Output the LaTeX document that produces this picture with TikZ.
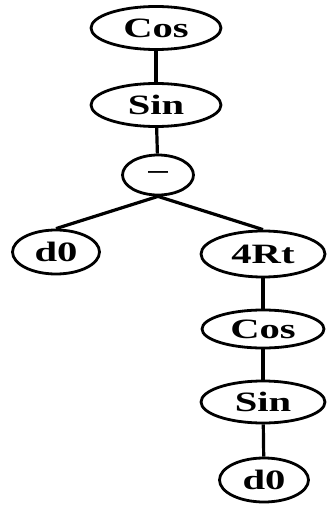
\documentclass[tikz,border=0pt]{standalone}
\usepackage{fontspec}
\setmainfont{Liberation Serif}
\usetikzlibrary{shapes.geometric}
\newcommand{\lbl}[1]{\scalebox{1.45}[1]{\fontsize{28}{28}\selectfont\bfseries #1}}
\begin{document}
\begin{tikzpicture}[x=1pt,y=-1pt,
  enode/.style={ellipse,draw,line width=2.8pt,inner sep=0pt,font=\bfseries},
  edge/.style={line width=3.2pt}]
\useasboundingbox (0,0) rectangle (327,505);
\node[enode,minimum width=130,minimum height=43] (cos1) at (156,28) {\lbl{Cos}};
\node[enode,minimum width=130,minimum height=43] (sin1) at (156,105) {\lbl{Sin}};
\node[enode,minimum width=71,minimum height=40] (minus) at (158,175) {\scalebox{1.5}[1]{\fontsize{26}{26}\selectfont\textendash}};
\node[enode,minimum width=87,minimum height=44] (d0a) at (56,252) {\lbl{d0}};
\node[enode,minimum width=124,minimum height=46] (rt) at (263,254) {\lbl{4Rt}};
\node[enode,minimum width=122,minimum height=38] (cos2) at (263,329) {\lbl{Cos}};
\node[enode,minimum width=124,minimum height=42] (sin2) at (263,402) {\lbl{Sin}};
\node[enode,minimum width=89,minimum height=44] (d0b) at (264,480) {\lbl{d0}};
\draw[edge] (cos1) -- (sin1);
\draw[edge] (sin1) -- (minus);
\draw[edge] (minus.south) -- (d0a.north);
\draw[edge] (minus.south) -- (rt.north);
\draw[edge] (rt) -- (cos2);
\draw[edge] (cos2) -- (sin2);
\draw[edge] (sin2) -- (d0b);
\end{tikzpicture}
\end{document}
